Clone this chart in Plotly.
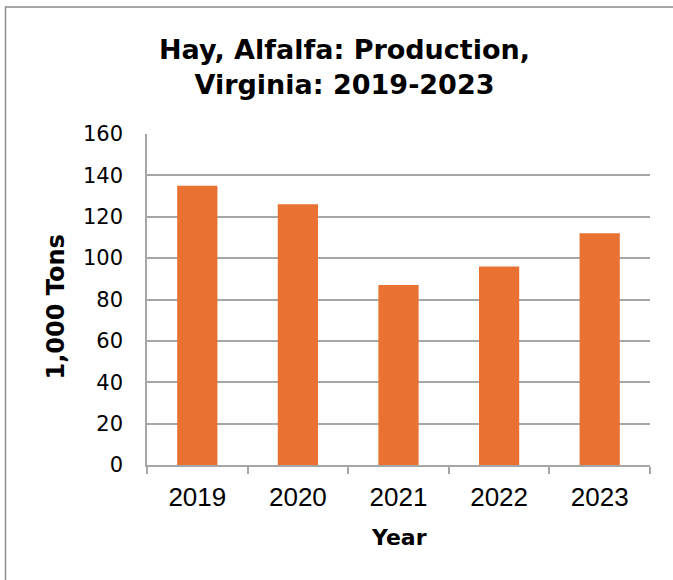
import plotly.graph_objects as go

years = ["2019", "2020", "2021", "2022", "2023"]
production = [135, 126, 87, 96, 112]
y_ticks = [0, 20, 40, 60, 80, 100, 120, 140, 160]

bar_color = "#E97132"
grid_color = "#A6A6A6"
wide_font = "DejaVu Sans, Verdana, sans-serif"
arial_font = "Liberation Sans, Arial, sans-serif"

fig = go.Figure(
    go.Bar(x=years, y=production, marker=dict(color=bar_color, line=dict(width=0)))
)

W, H = 673, 580
ml, mr, mt, mb = 147, 23, 134, 115
pw, ph = W - ml - mr, H - mt - mb

def px_to_paper_x(px):
    return (px - ml) / pw

def px_to_paper_y(py):
    return (H - mb - py) / ph

fig.update_layout(
    width=W,
    height=H,
    margin=dict(l=ml, r=mr, t=mt, b=mb),
    paper_bgcolor="white",
    plot_bgcolor="white",
    bargap=0.6,
    showlegend=False,
    font=dict(family=wide_font, color="black"),
    title=dict(
        text="<b>Hay, Alfalfa: Production,<br>Virginia: 2019-2023</b>",
        x=344.5 / W,
        xanchor="center",
        xref="container",
        yref="container",
        y=1 - 59 / H,
        yanchor="top",
        font=dict(size=27, color="black", family=wide_font),
    ),
    xaxis=dict(
        type="category",
        showgrid=False,
        showline=True,
        linecolor=grid_color,
        linewidth=1.5,
        ticks="outside",
        tickson="boundaries",
        ticklen=7,
        tickcolor=grid_color,
        tickwidth=1.5,
        ticklabelstandoff=8,
        tickfont=dict(size=26, color="black", family=arial_font),
    ),
    yaxis=dict(
        range=[0, 160],
        tickvals=y_ticks,
        showgrid=True,
        gridcolor=grid_color,
        gridwidth=1.5,
        showline=True,
        linecolor=grid_color,
        linewidth=1.5,
        zeroline=False,
        ticks="",
        ticklabelstandoff=18,
        tickfont=dict(size=21, color="black", family=wide_font),
    ),
)

fig.add_annotation(
    text="<b>1,000 Tons</b>",
    xref="paper",
    yref="paper",
    x=px_to_paper_x(55.5),
    y=px_to_paper_y(307),
    textangle=-90,
    showarrow=False,
    xanchor="center",
    yanchor="middle",
    font=dict(size=24, color="black", family=wide_font),
)

fig.add_annotation(
    text="<b>Year</b>",
    xref="paper",
    yref="paper",
    x=px_to_paper_x(399),
    y=px_to_paper_y(537),
    showarrow=False,
    xanchor="center",
    yanchor="middle",
    font=dict(size=22, color="black", family=wide_font),
)

fig.add_shape(
    type="rect",
    xref="paper",
    yref="paper",
    x0=px_to_paper_x(5.5),
    x1=px_to_paper_x(690),
    y0=px_to_paper_y(600),
    y1=px_to_paper_y(7),
    line=dict(color="#8C8C8C", width=1.5),
    fillcolor="rgba(0,0,0,0)",
    layer="below",
)

fig.write_html(
    "out.html",
    config={"displayModeBar": False},
    post_script="document.body.style.margin='0px';document.body.style.padding='0px';",
)
